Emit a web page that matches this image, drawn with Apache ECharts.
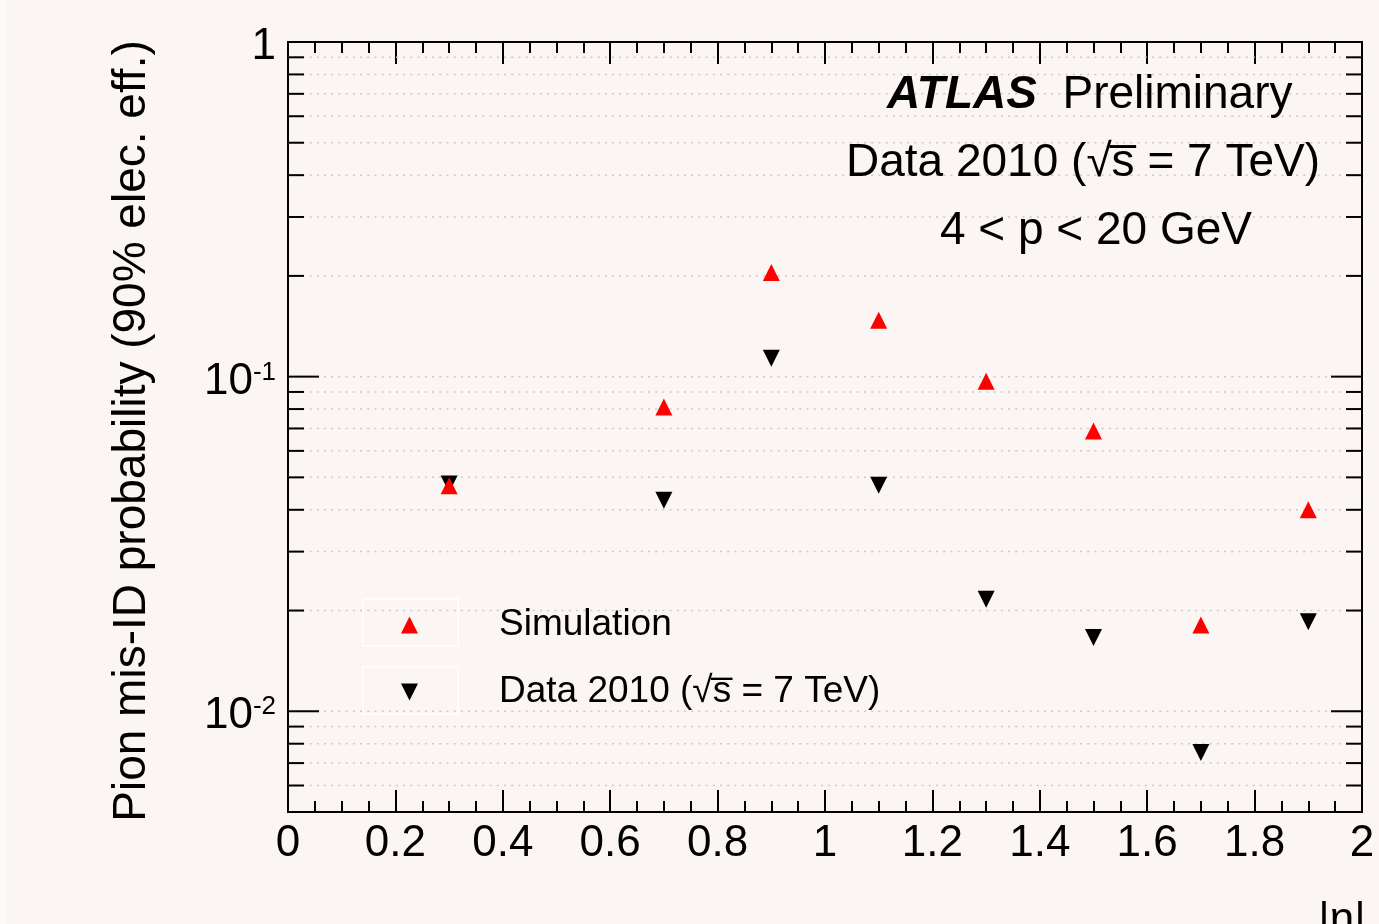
<!DOCTYPE html>
<html>
<head>
<meta charset="utf-8">
<title>Pion mis-ID probability vs |eta|</title>
<script src="https://cdn.jsdelivr.net/npm/echarts@6/dist/echarts.min.js"></script>
<style>
  html, body { margin: 0; padding: 0; background: #fbf6f3; }
  #chart { width: 1379px; height: 924px; }
</style>
</head>
<body>
<div id="chart"></div>
<script>
// |eta| bin centres
const etaBins = [0.3, 0.7, 0.9, 1.1, 1.3, 1.5, 1.7, 1.9];
// Pion mis-identification probability at 90% electron efficiency
const simulation = [0.0472, 0.0812, 0.2047, 0.1475, 0.0968, 0.0688, 0.0181, 0.0400];
const data2010   = [0.0478, 0.0427, 0.1134, 0.0474, 0.0216, 0.0166, 0.00753, 0.0185];

// log-axis decoration: decade ticks and the 2..9 sub-decade ticks
const yMajorTicks = [0.01, 0.1];
const yMinorTicks = [0.006, 0.007, 0.008, 0.009,
                     0.02, 0.03, 0.04, 0.05, 0.06, 0.07, 0.08, 0.09,
                     0.2, 0.3, 0.4, 0.5, 0.6, 0.7, 0.8, 0.9];

const SIM_NAME  = 'Simulation';
const DATA_NAME = 'Data 2010 (\u221As\u0305 = 7 TeV)';

const FONT = "'Liberation Sans', Arial, Helvetica, sans-serif";
const DOWN_TRIANGLE = 'path://M0,0L2,0L1,2Z';

const chart = echarts.init(document.getElementById('chart'), null, { renderer: 'canvas' });

const gridTicks = yMajorTicks.map(v => [0, v, 1]).concat(yMinorTicks.map(v => [0, v, 0]));

function renderYDecor(params, api) {
  const cs = params.coordSys;
  const y = api.coord([0, api.value(1)])[1];
  const len = api.value(2) ? 31 : 16;
  return {
    type: 'group',
    children: [
      { type: 'line', shape: { x1: cs.x, y1: y, x2: cs.x + cs.width, y2: y },
        style: { stroke: '#cdc9c7', lineWidth: 1.5, lineDash: [2, 5.2] } },
      { type: 'line', shape: { x1: cs.x, y1: y, x2: cs.x + len, y2: y },
        style: { stroke: '#000', lineWidth: 2 } },
      { type: 'line', shape: { x1: cs.x + cs.width - len, y1: y, x2: cs.x + cs.width, y2: y },
        style: { stroke: '#000', lineWidth: 2 } }
    ]
  };
}

function xAxisDef(position, showLabels) {
  return {
    type: 'value',
    position: position,
    min: 0,
    max: 2,
    interval: 0.2,
    axisLine: { show: false },
    splitLine: { show: false },
    axisTick: { show: true, inside: true, length: 22, lineStyle: { color: '#000', width: 2 } },
    minorTick: { show: true, splitNumber: 4, length: 11, lineStyle: { color: '#000', width: 2 } },
    minorSplitLine: { show: false },
    axisLabel: {
      show: showLabels,
      margin: 10,
      fontSize: 44,
      fontFamily: FONT,
      color: '#000',
      showMinLabel: true,
      showMaxLabel: true
    }
  };
}

const option = {
  backgroundColor: '#fbf6f3',
  animation: false,
  grid: {
    left: 288, top: 42, width: 1074, height: 770,
    show: true, borderColor: '#000', borderWidth: 2, backgroundColor: 'transparent',
    containLabel: false,
    outerBoundsMode: 'none'
  },
  xAxis: [xAxisDef('bottom', true), xAxisDef('top', false)],
  yAxis: [{
    type: 'log',
    logBase: 10,
    min: 0.005,
    max: 1,
    axisLine: { show: false },
    axisTick: { show: false },
    splitLine: { show: false },
    minorTick: { show: false },
    axisLabel: {
      showMinLabel: false,
      margin: 12,
      padding: [10, 0, 0, 0],
      formatter: function (v) {
        const e = Math.round(Math.log10(v));
        if (e === 0) return '{n|1}';
        return '{n|10}{s|' + e + '}';
      },
      rich: {
        n: { fontSize: 44, fontFamily: FONT, color: '#000', lineHeight: 44 },
        s: { fontSize: 26, fontFamily: FONT, color: '#000', lineHeight: 22, verticalAlign: 'top' }
      }
    }
  }],
  legend: {
    orient: 'vertical',
    left: 396,
    top: 600,
    itemGap: 27,
    itemWidth: 17,
    itemHeight: 17,
    selectedMode: false,
    data: [
      { name: SIM_NAME, icon: 'triangle' },
      { name: DATA_NAME, icon: DOWN_TRIANGLE }
    ],
    textStyle: { fontSize: 37, fontFamily: FONT, color: '#000', lineHeight: 40, padding: [0, 0, 0, 76] }
  },
  series: [
    {
      type: 'custom',
      name: 'axis-decor',
      coordinateSystem: 'cartesian2d',
      xAxisIndex: 0,
      yAxisIndex: 0,
      encode: { x: 0, y: 1 },
      data: gridTicks,
      renderItem: renderYDecor,
      silent: true,
      clip: false,
      z: 1
    },
    {
      type: 'scatter',
      name: DATA_NAME,
      data: etaBins.map((x, i) => [x, data2010[i]]),
      symbol: 'triangle',
      symbolSize: 17,
      symbolRotate: 180,
      itemStyle: { color: '#000000', opacity: 1 },
      z: 3
    },
    {
      type: 'scatter',
      name: SIM_NAME,
      data: etaBins.map((x, i) => [x, simulation[i]]),
      symbol: 'triangle',
      symbolSize: 17,
      itemStyle: { color: '#ff0000', opacity: 1 },
      z: 4
    }
  ],
  graphic: [
    { type: 'rect', left: 0, top: 0, shape: { width: 7, height: 924 }, style: { fill: '#fdfbfa' }, silent: true, z: -1 },
    // legend entry frames
    { type: 'rect', shape: { x: 363, y: 599, width: 95, height: 47 }, style: { fill: 'none', stroke: '#ffffff', lineWidth: 1.5 }, silent: true, z: 0 },
    { type: 'rect', shape: { x: 363, y: 667, width: 95, height: 47 }, style: { fill: 'none', stroke: '#ffffff', lineWidth: 1.5 }, silent: true, z: 0 },
    // labels in the upper right of the frame
    {
      type: 'text', x: 887, y: 95, silent: true, z: 10,
      style: {
        text: '{a|ATLAS}  Preliminary',
        font: '46px ' + FONT,
        fill: '#000',
        align: 'left',
        verticalAlign: 'middle',
        rich: {
          a: { fontSize: 46, fontFamily: FONT, fontWeight: 'bold', fontStyle: 'italic', fill: '#000' }
        }
      }
    },
    {
      type: 'text', x: 846, y: 163, silent: true, z: 10,
      style: { text: 'Data 2010 (\u221As\u0305 = 7 TeV)', font: '46px ' + FONT, fill: '#000', align: 'left', verticalAlign: 'middle' }
    },
    {
      type: 'text', x: 940, y: 231, silent: true, z: 10,
      style: { text: '4 < p < 20 GeV', font: '46px ' + FONT, fill: '#000', align: 'left', verticalAlign: 'middle' }
    },
    // axis titles
    {
      type: 'text', x: 132, y: 431, rotation: Math.PI / 2, silent: true, z: 10,
      style: { text: 'Pion mis-ID probability (90% elec. eff.)', font: '46px ' + FONT, fill: '#000', align: 'center', verticalAlign: 'middle' }
    },
    {
      type: 'text', x: 1342, y: 899, silent: true, z: 10,
      style: { text: '|\u03B7|', font: '44px ' + FONT, fill: '#000', align: 'center', verticalAlign: 'top' }
    }
  ]
};

chart.setOption(option);
</script>
</body>
</html>
